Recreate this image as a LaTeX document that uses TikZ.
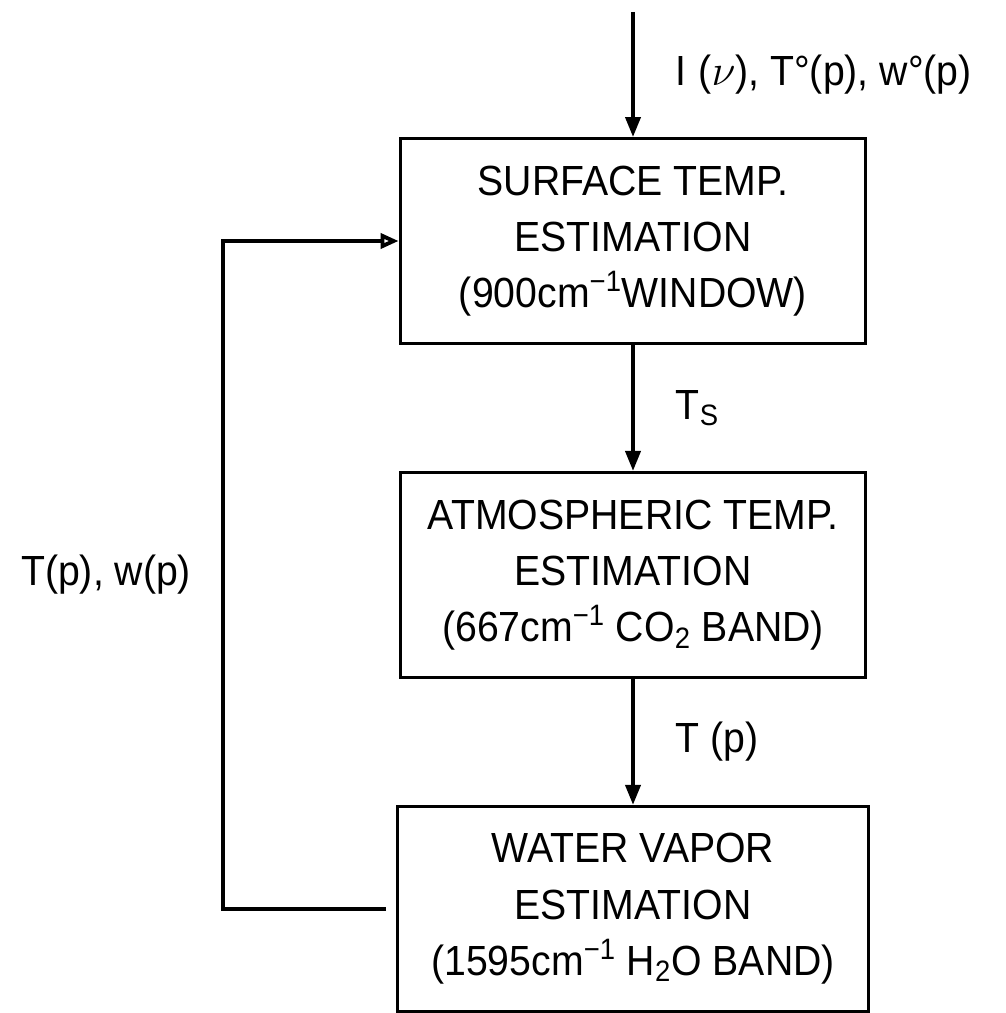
\documentclass[tikz,border=0pt]{standalone}
\usepackage{fontspec}
\setmainfont{Liberation Sans}[FakeStretch=0.93]
\usepackage{tikz}
\usetikzlibrary{arrows.meta, positioning}
\tikzset{
  est/.style={rectangle, draw, line width=1.7pt, minimum width=9.32cm,
              minimum height=4.1cm, align=center, inner sep=0pt},
  arc/.style={-{Triangle[length=4mm, width=3mm]}, line width=2.2pt},
  lbl/.style={inner sep=0pt},
  loopline/.style={line width=2.2pt, -{Triangle[open, length=3.6mm, width=3mm]}}
}

\begin{document}
\begin{tikzpicture}[x=0.02cm, y=-0.02cm, node distance=2.52cm,
    every node/.style={font=\fontsize{24}{32}\selectfont}]
  \useasboundingbox (0,0) rectangle (1006,1013);
  \node[est] (surf) at (633,241) {SURFACE TEMP.\\ESTIMATION\\(900cm\textsuperscript{−1}WINDOW)};
  \node[est, below=of surf] (atm) {ATMOSPHERIC TEMP.\\ESTIMATION\\(667cm\textsuperscript{−1} CO\textsubscript{2} BAND)};
  \node[est, below=of atm, minimum width=9.42cm] (wat) {WATER VAPOR\\ESTIMATION\\(1595cm\textsuperscript{−1} H\textsubscript{2}O BAND)};
  \coordinate (src) at (633,12);
  \coordinate (fb) at (223,0);
  \draw[arc] (src) -- node[lbl, right=0.82cm] {$\mathrm{I}$ ($\nu$), T°(p), w°(p)} (surf);
  \draw[arc] (surf) -- node[lbl, right=0.82cm] {T\textsubscript{S}} (atm);
  \draw[arc] (atm) -- node[lbl, right=0.82cm] {T (p)} (wat);
  % feedback loop
  \draw[loopline, shorten <=0.2cm] (wat.west) -- (wat.west -| fb)
    -- node[lbl, left=0.6cm] {T(p), w(p)} (surf.west -| fb) -- (surf.west);
\end{tikzpicture}
\end{document}
